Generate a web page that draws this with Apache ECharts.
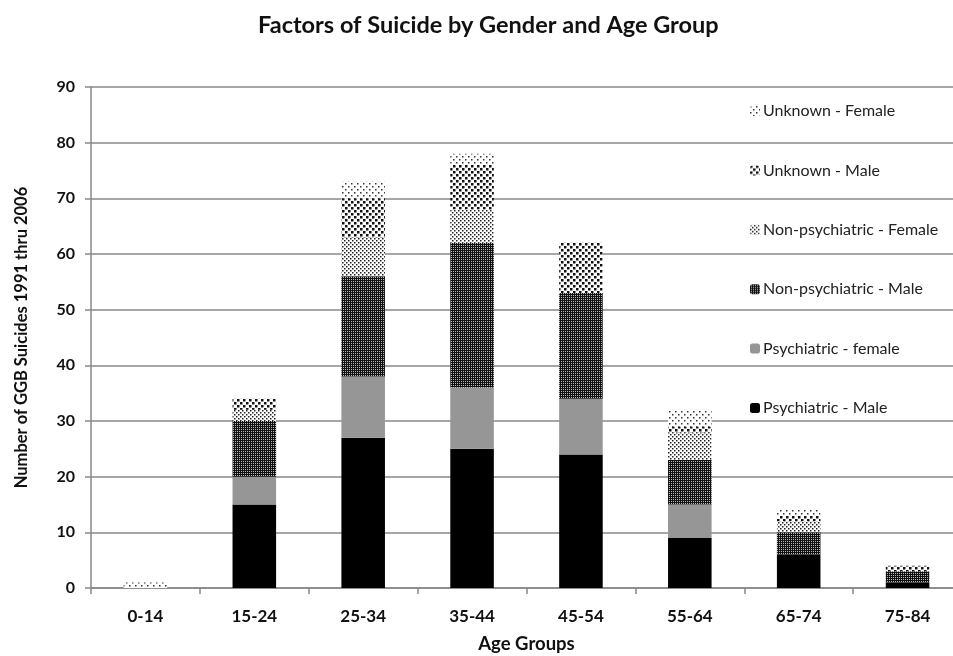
<!DOCTYPE html>
<html>
<head>
<meta charset="utf-8">
<script src="https://cdn.jsdelivr.net/npm/echarts@6/dist/echarts.min.js"></script>
<style>
html,body{margin:0;padding:0;background:#fff;}
#chart{width:953px;height:656px;}
</style>
</head>
<body>
<div id="chart"></div>
<script>
var categories = ['0-14','15-24','25-34','35-44','45-54','55-64','65-74','75-84'];
var psychiatricMale     = [0,15,27,25,24,9,6,1];
var psychiatricFemale   = [0,5,11,11,10,6,0,0];
var nonPsychMale        = [0,10,18,26,19,8,4,2];
var nonPsychFemale      = [0,2,7,6,0,5,2,0];
var unknownMale         = [0,2,7,8,9,1,1,1];
var unknownFemale       = [1,0,3,2,0,3,1,0];
var seriesNames = ['Psychiatric - Male','Psychiatric - female','Non-psychiatric - Male','Non-psychiatric - Female','Unknown - Male','Unknown - Female'];

function makePattern(w, h, bg, fg, rects){
  var c = document.createElement('canvas');
  c.width = w; c.height = h;
  var ctx = c.getContext('2d');
  ctx.fillStyle = bg; ctx.fillRect(0,0,w,h);
  ctx.fillStyle = fg;
  rects.forEach(function(r){ ctx.fillRect(r[0], r[1], r[2], r[3]); });
  return {image: c, repeat: 'repeat'};
}
var patNPM = makePattern(2,2,'#111111','#bbbbbb',[[1,1,1,1]]);
var patNPF = makePattern(4,4,'#ffffff','#222222',[[0,0,1.5,1.5],[2,2,1.5,1.5]]);
var patUM  = makePattern(6,6,'#ffffff','#111111',[[0,0,2.5,2.5],[3,3,2.5,2.5]]);
var patUF  = makePattern(6,6,'#ffffff','#333333',[[0,0,1.5,1.5],[3,3,1.5,1.5]]);

var colors = ['#000000','#969696',patNPM,patNPF,patUM,patUF];
var datasets = [psychiatricMale, psychiatricFemale, nonPsychMale, nonPsychFemale, unknownMale, unknownFemale];

var series = datasets.map(function(d, i){
  return {
    name: seriesNames[i],
    type: 'bar',
    stack: 'total',
    barWidth: '40%',
    data: d,
    itemStyle: {color: colors[i]},
    emphasis: {disabled: true}
  };
});

var chart = echarts.init(document.getElementById('chart'));
chart.setOption({
  animation: false,
  title: {
    text: 'Factors of Suicide by Gender and Age Group',
    left: 253,
    top: 8,
    textStyle: {fontFamily: 'Lato', fontSize: 23.5, fontWeight: 'bold', color: '#111'}
  },
  legend: {
    orient: 'vertical',
    left: 745,
    top: 98,
    itemWidth: 10,
    itemHeight: 10,
    itemGap: 43.4,
    data: seriesNames.slice().reverse(),
    textStyle: {fontFamily: 'Lato', fontSize: 16, color: '#222', padding: [0,0,0,-2]},
    selectedMode: false
  },
  grid: {left: 91, right: -9, top: 87, bottom: 68, containLabel: false, outerBoundsMode: 'none'},
  xAxis: {
    type: 'category',
    data: categories,
    name: 'Age Groups',
    nameLocation: 'middle',
    nameGap: 47,
    nameTextStyle: {fontFamily: 'Lato', fontSize: 18.5, fontWeight: 'bold', color: '#111'},
    axisLine: {lineStyle: {color: '#888', width: 1.5}},
    axisTick: {show: true, length: 6, lineStyle: {color: '#888', width: 1.5}},
    axisLabel: {fontFamily: 'Lato', fontSize: 17, fontWeight: 'bold', color: '#111', margin: 20}
  },
  yAxis: {
    type: 'value',
    min: 0,
    max: 90,
    interval: 10,
    name: 'Number of GGB Suicides 1991 thru 2006',
    nameLocation: 'middle',
    nameGap: 61,
    nameTextStyle: {fontFamily: 'Lato', fontSize: 16.5, fontWeight: 'bold', color: '#111'},
    axisLine: {show: true, lineStyle: {color: '#888', width: 1.5}},
    axisTick: {show: true, length: 6, lineStyle: {color: '#888', width: 1.5}},
    axisLabel: {fontFamily: 'Lato', fontSize: 16, fontWeight: 'bold', color: '#111', margin: 16},
    splitLine: {lineStyle: {color: '#888', width: 1.5}}
  },
  series: series
});
</script>
</body>
</html>
